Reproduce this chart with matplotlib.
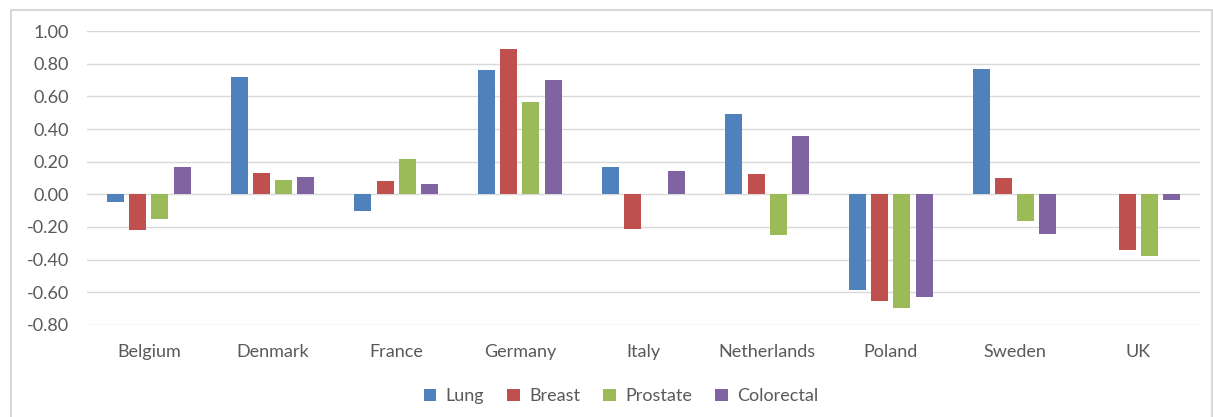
import numpy as np
import matplotlib
matplotlib.use('Agg')
import matplotlib.pyplot as plt
from matplotlib.patches import Rectangle

plt.rcParams['font.family'] = ['Lato', 'DejaVu Sans']

COUNTRIES = ['Belgium', 'Denmark', 'France', 'Germany', 'Italy',
             'Netherlands', 'Poland', 'Sweden', 'UK']

# values
LUNG = [-0.045, 0.72, -0.10, 0.76, 0.17, 0.49, -0.59, 0.77, 0.0]
BREAST = [-0.22, 0.13, 0.08, 0.89, -0.215, 0.125, -0.655, 0.10, -0.34]
PROSTATE = [-0.15, 0.085, 0.215, 0.565, 0.0, -0.25, -0.70, -0.165, -0.38]
COLORECTAL = [0.165, 0.105, 0.065, 0.70, 0.145, 0.355, -0.63, -0.245, -0.035]

SERIES = [
    ('Lung', LUNG, '#4F81BD'),
    ('Breast', BREAST, '#C0504D'),
    ('Prostate', PROSTATE, '#9BBB59'),
    ('Colorectal', COLORECTAL, '#8064A2'),
]

YTICKS = [-0.8, -0.6, -0.4, -0.2, 0.0, 0.2, 0.4, 0.6, 0.8, 1.0]

TEXT = '#595959'
GRID = '#D9D9D9'

W, H = 1213, 417
fig = plt.figure(figsize=(W / 100, H / 100), dpi=100)
ax = fig.add_axes([87 / W, (H - 324.7) / H, (1200 - 87) / W, (324.7 - 31.3) / H])

x = np.arange(len(COUNTRIES))
step = 0.18
bw = 0.137
for i, (name, vals, col) in enumerate(SERIES):
    ax.bar(x + (i - 1.5) * step, vals, width=bw, color=col, label=name,
           linewidth=0, zorder=3)

ax.set_xlim(-0.5, len(COUNTRIES) - 0.5)
ax.set_ylim(-0.8, 1.0)
ax.set_yticks(YTICKS)
ax.set_yticklabels(['{:.2f}'.format(v) for v in YTICKS])
ax.set_xticks(x)
ax.set_xticklabels(COUNTRIES)
ax.tick_params(axis='y', length=0, pad=13, labelsize=13, labelcolor=TEXT)
ax.tick_params(axis='x', length=0, pad=14, labelsize=13, labelcolor=TEXT)
ax.grid(axis='y', color=GRID, linewidth=1, zorder=0)
for s in ax.spines.values():
    s.set_visible(False)

fig.legend(loc='center', bbox_to_anchor=(0.512, 0.05), ncol=4, frameon=False,
           fontsize=13, labelcolor=TEXT, handlelength=0.7, handleheight=0.7,
           handletextpad=0.5, columnspacing=1.3)

# light chart-area border
fig.patches.append(Rectangle((10.5 / W, -0.05), (1212 - 10.5) / W, (H - 10) / H + 0.05,
                             transform=fig.transFigure, fill=False,
                             edgecolor=GRID, linewidth=1.5))

fig.savefig('out.png', dpi=100)
